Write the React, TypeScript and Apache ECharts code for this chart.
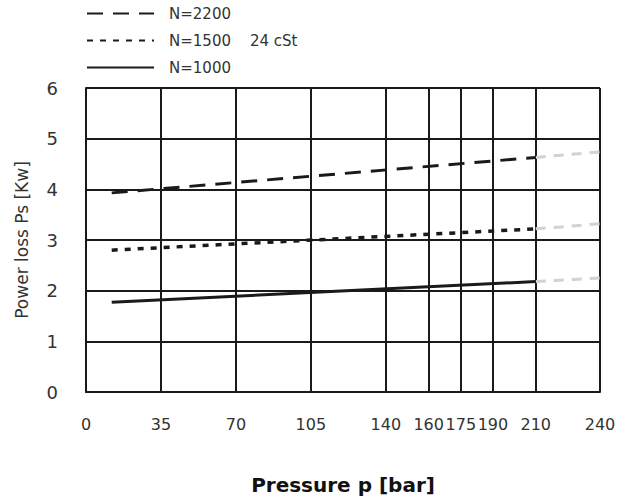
import React, { useEffect, useRef } from "react";
import * as echarts from "echarts";

const seriesNames = ["N=2200", "N=1500", "N=1000"];
const pressureMain = [12, 210];
const pressureExt = [210, 240];
const n2200Main = [3.93, 4.63];
const n2200Ext = [4.63, 4.74];
const n1500Main = [2.8, 3.22];
const n1500Ext = [3.22, 3.32];
const n1000Main = [1.77, 2.18];
const n1000Ext = [2.18, 2.25];
const xTicks = [0, 35, 70, 105, 140, 160, 175, 190, 210, 240];

const FONT = "DejaVu Sans";
const TEXT = "#333";

export default function App() {
  const ref = useRef<HTMLDivElement>(null);
  useEffect(() => {
    document.body.style.margin = "0";
    const chart = echarts.init(ref.current!, undefined, { renderer: "svg" });
    const pairs = (xs: number[], ys: number[]) => xs.map((x, i) => [x, ys[i]]);
    const mainStyles = [
      { type: [16, 10], width: 3 },
      { type: [6, 7], width: 3.5 },
      { type: "solid", width: 3 },
    ];
    const mains = [n2200Main, n1500Main, n1000Main];
    const exts = [n2200Ext, n1500Ext, n1000Ext];
    const series: any[] = [];
    seriesNames.forEach((name, i) => {
      series.push({
        name,
        type: "line",
        symbol: "none",
        showSymbol: false,
        data: pairs(pressureMain, mains[i]),
        lineStyle: { color: "#1a1a1a", ...mainStyles[i] },
        itemStyle: { color: "#1a1a1a" },
        z: 5,
      });
      series.push({
        name: name + " ext",
        type: "line",
        symbol: "none",
        data: pairs(pressureExt, exts[i]),
        lineStyle: { color: "#d2d2d2", type: [10, 8], width: 3 },
        z: 4,
      });
    });
    chart.setOption({
      animation: false,
      textStyle: { fontFamily: FONT },
      grid: { left: 86, top: 88, width: 514, height: 304, outerBoundsMode: "none", containLabel: false },
      legend: {
        data: seriesNames,
        orient: "vertical",
        left: 86,
        top: 6,
        padding: 0,
        itemWidth: 67,
        itemHeight: 12,
        itemGap: 12,
        itemStyle: { opacity: 0 },
        textStyle: { fontSize: 15, color: TEXT, padding: [0, 0, 0, 10], fontFamily: FONT },
      },
      graphic: [
        {
          type: "text",
          left: 250,
          top: 33,
          style: { text: "24 cSt", fontSize: 15, fill: TEXT, fontFamily: FONT },
        },
      ],
      xAxis: {
        type: "value",
        min: 0,
        max: 240,
        name: "Pressure p [bar]",
        nameLocation: "middle",
        nameGap: 83,
        nameTextStyle: { fontSize: 20, fontWeight: "bold", color: "#111", fontFamily: "DejaVu Sans" },
        axisLine: { show: true, lineStyle: { color: "#1a1a1a", width: 2 } },
        axisTick: { show: false, customValues: xTicks },
        axisLabel: { customValues: xTicks, fontSize: 16, color: TEXT, margin: 24 },
        splitLine: { show: true, lineStyle: { color: "#1a1a1a", width: 2 } },
      },
      yAxis: {
        type: "value",
        min: 0,
        max: 6,
        interval: 1,
        name: "Power loss Ps [Kw]",
        nameLocation: "middle",
        nameGap: 56,
        nameMoveOverlap: false,
        nameTextStyle: { fontSize: 17, color: TEXT, fontFamily: FONT },
        axisLine: { show: true, lineStyle: { color: "#1a1a1a", width: 2 } },
        axisTick: { show: false },
        axisLabel: { fontSize: 18, color: TEXT, margin: 28 },
        splitLine: { show: true, lineStyle: { color: "#1a1a1a", width: 2 } },
      },
      series,
    });
    return () => chart.dispose();
  }, []);
  return <div ref={ref} style={{ width: 630, height: 498 }} />;
}
